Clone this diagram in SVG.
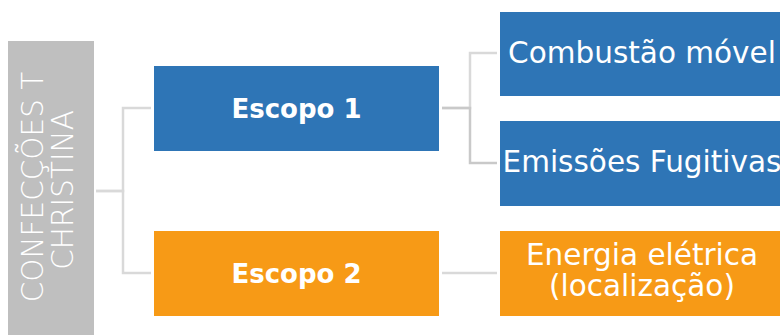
<svg xmlns="http://www.w3.org/2000/svg" width="780" height="335" viewBox="0 0 780 335">
<style>
.blue{fill:#2E75B6}
.orange{fill:#F79A16}
.t{fill:#fff;font-family:"DejaVu Sans","Liberation Sans",sans-serif;text-anchor:middle}
.b{font-weight:bold;font-size:26px}
.r{font-size:29.5px}
.v{font-size:29.5px;font-weight:200}
.c{fill:none;stroke:#D9D9D9;stroke-width:2.5}
</style>
<rect width="780" height="335" fill="#fff"/>
<g id="connectors">
<path class="c" d="M96,191 H123 V108 H151"/>
<path class="c" d="M96,191 H123 V273 H151"/>
<path class="c" d="M442,108 H470 V53 H497"/>
<path class="c" d="M442,108 H470 V163 H497" style="stroke:#C9C9C9"/>
<path class="c" d="M442,273 H497"/>
</g>
<g id="root">
<rect x="8" y="41" width="86" height="300" fill="#BFBFBF"/>
<text class="t v" transform="translate(43,187) rotate(-90)">CONFECÇÕES T</text>
<text class="t v" transform="translate(73,190) rotate(-90)">CHRISTINA</text>
</g>
<g id="escopo1">
<rect class="blue" x="154" y="66" width="285" height="85"/>
<text class="t b" x="296.5" y="118">Escopo 1</text>
</g>
<g id="escopo2">
<rect class="orange" x="154" y="231" width="285" height="85"/>
<text class="t b" x="296.5" y="283">Escopo 2</text>
</g>
<g id="combustao">
<rect class="blue" x="500" y="12" width="285" height="84"/>
<text class="t r" x="642" y="63">Combustão móvel</text>
</g>
<g id="emissoes">
<rect class="blue" x="500" y="121" width="285" height="85"/>
<text class="t r" x="642" y="172">Emissões Fugitivas</text>
</g>
<g id="energia">
<rect class="orange" x="500" y="231" width="285" height="85"/>
<text class="t r" x="642" y="265">Energia elétrica</text>
<text class="t r" x="642" y="296">(localização)</text>
</g>
</svg>
